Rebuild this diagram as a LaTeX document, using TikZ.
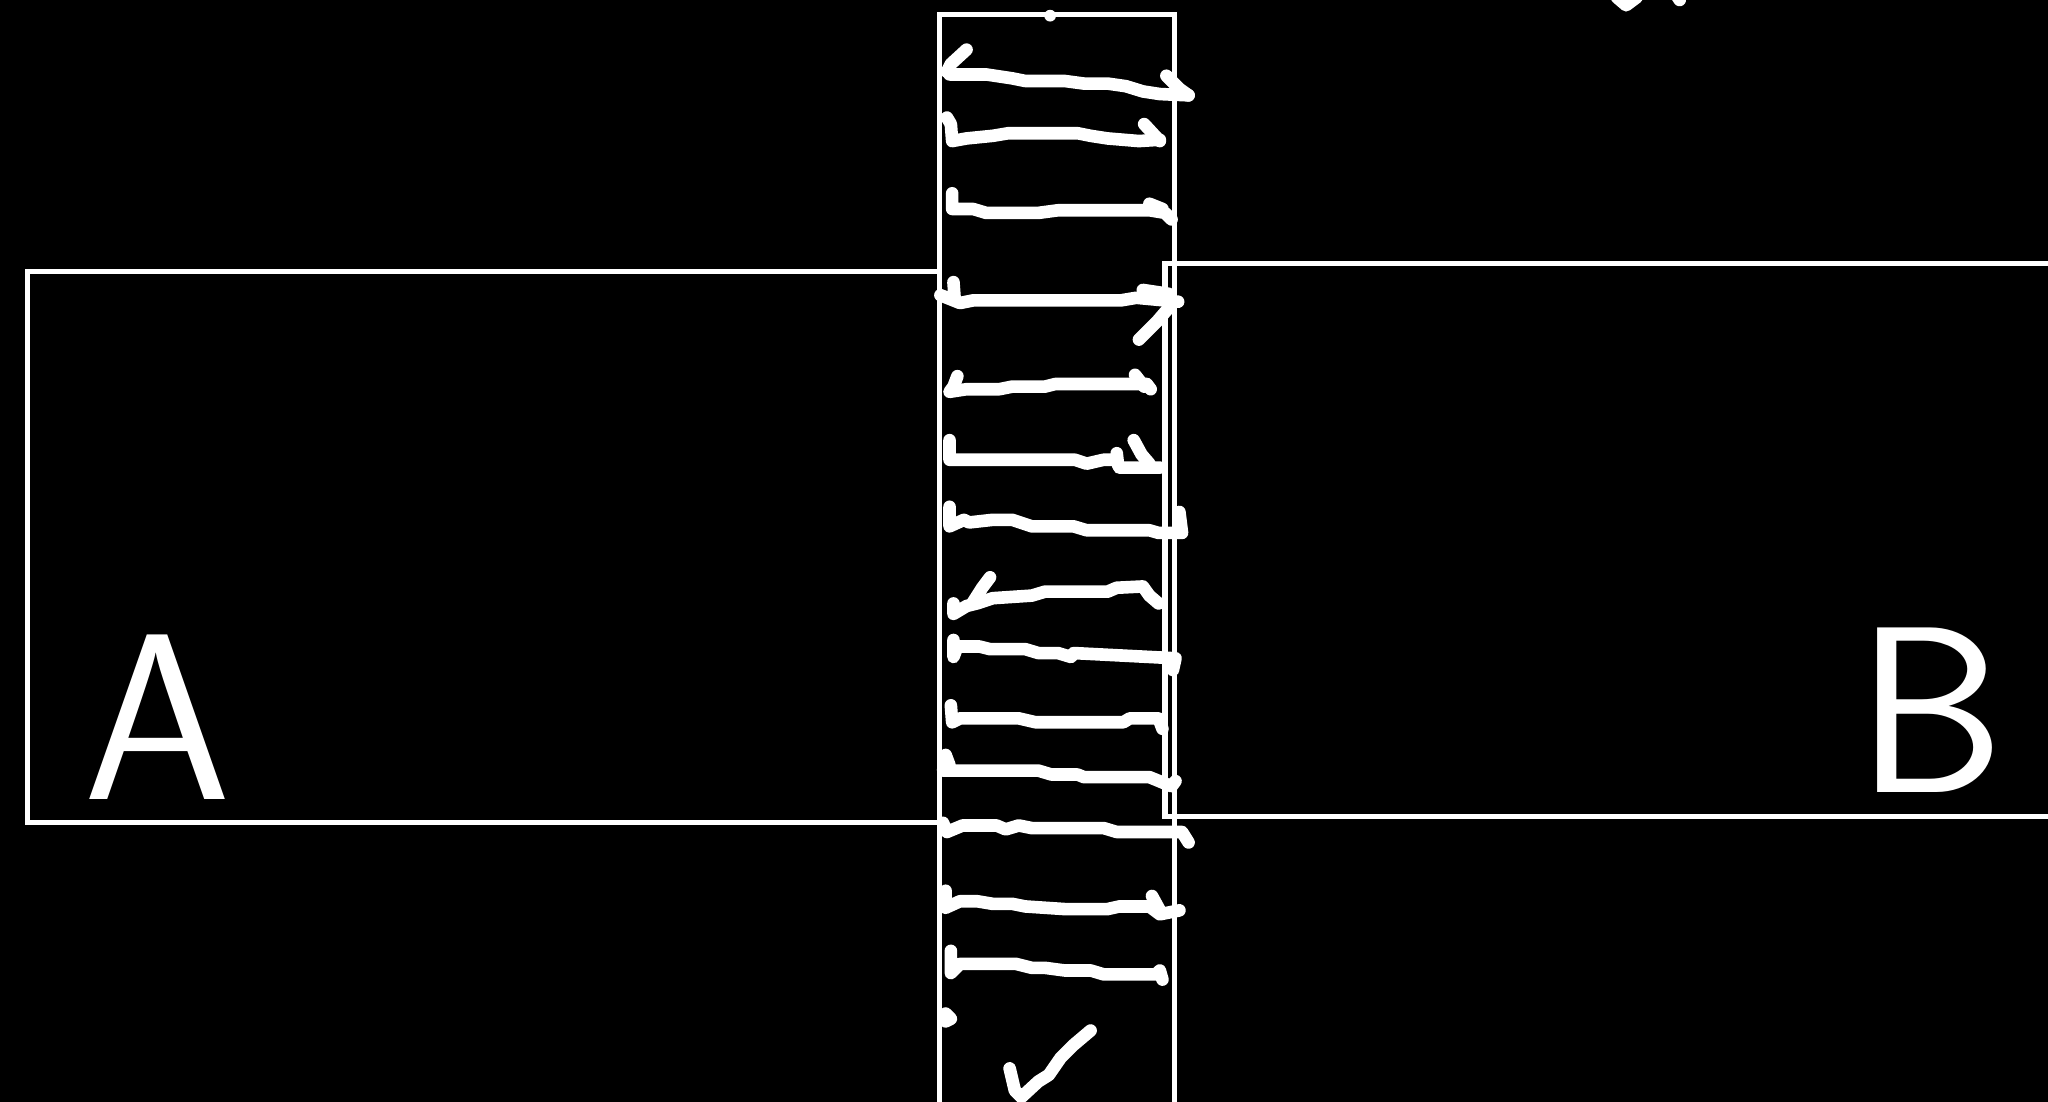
\documentclass[tikz,border=0pt]{standalone}
\usepackage{tikz}
\tikzset{
  frame/.style={white,line width=1.2mm},
  stroke/.style={white,line width=2.9mm,line cap=round,line join=round},
  letter/.style={white,font=\sffamily\fontsize{155}{155}\selectfont,inner sep=0pt}
}

\begin{document}
\begin{tikzpicture}[x=0.3mm,y=-0.3mm]
% page (2048x1102 scaled to 1568 wide)
\fill[black] (0,0) rectangle (1568,843.7);
\useasboundingbox (0,0) rectangle (1568,843.7);
\clip (0,0) rectangle (1568,843.7);
% boxes A and B, strip between
\draw[frame] (721,208) -- (21,208) -- (21,630) -- (721,630);
\draw[frame] (1600,202) -- (892,202) -- (892,625) -- (1600,625);
\draw[frame] (719,860) -- (719,11) -- (899,11) -- (899,860);
\node[letter] (a) at (121,549) {A};
\node[letter] (b) at (1478,544) {B};
% dot on top of strip, scrap at top edge
\fill[white] (804,12) circle (4.5);
\draw[stroke] (1238,-2)--(1245,4)--(1253,-2);
\draw[stroke] (1284,-3)--(1286,0);
% strokes across the strip
\draw[stroke] plot coordinates {(740,38)(728,49)(725,55)};
\draw[stroke] plot coordinates {(727,57)(755,57)(775,60)(785,62)(815,62)(830,64)(848,64)(862,66)(875,70)(888,72)(910,73)};
\draw[stroke] plot coordinates {(893,58)(903,68)(910,73)};
\draw[stroke] plot coordinates {(725,90)(728,95)(729,108)(740,106)(760,104)(772,102)(825,102)(835,104)(848,106)(872,108)(888,107)};
\draw[stroke] plot coordinates {(876,95)(888,108)};
\draw[stroke] plot coordinates {(729,148)(729,160)(745,160)(755,163)(795,163)(810,161)(880,161)(892,163)(897,168)};
\draw[stroke] plot coordinates {(880,156)(890,160)};
\draw[stroke] plot coordinates {(730,216)(731,230)(720,226)(735,232)(745,230)(858,230)(870,228)(902,231)};
\draw[stroke] plot coordinates {(875,222)(895,225)(898,232)(886,246)(872,260)};
\draw[stroke] plot coordinates {(733,288)(730,296)(727,300)(740,298)(765,298)(775,296)(800,296)(808,294)(878,294)(881,298)};
\draw[stroke] plot coordinates {(869,287)(876,296)};
\draw[stroke] plot coordinates {(727,337)(727,352)(823,352)(832,355)(845,352)(855,352)(857,358)(888,358)};
\draw[stroke] plot coordinates {(868,337)(874,348)(880,355)};
\draw[stroke] plot coordinates {(855,347)(856,356)};
\draw[stroke] plot coordinates {(727,388)(727,403)(738,398)(742,400)(760,398)(775,398)(790,403)(822,403)(832,406)(880,406)(887,408)(905,408)(903,392)};
\draw[stroke] plot coordinates {(730,462)(730,470)(740,464)(748,462)(760,458)(790,456)(800,453)(848,453)(855,450)(875,449)(880,456)(887,462)};
\draw[stroke] plot coordinates {(745,461)(752,450)(758,442)};
\draw[stroke] plot coordinates {(730,490)(730,503)(733,495)(750,495)(758,497)(785,497)(795,500)(810,500)(820,503)(822,500)(900,504)(898,513)};
\draw[stroke] plot coordinates {(728,540)(729,553)(735,550)(780,550)(793,553)(860,553)(865,550)(887,550)(890,558)};
\draw[stroke] plot coordinates {(724,578)(727,586)(722,590)(795,590)(805,593)(825,593)(830,595)(880,595)(885,597)(897,602)(900,598)};
\draw[stroke] plot coordinates {(722,630)(725,637)(737,632)(763,632)(770,635)(780,632)(790,634)(845,634)(855,637)(905,637)(910,645)};
\draw[stroke] plot coordinates {(724,682)(724,695)(735,690)(748,690)(760,692)(775,692)(785,694)(815,696)(848,696)(857,694)(880,694)(888,700)(903,697)};
\draw[stroke] plot coordinates {(882,686)(888,697)};
\draw[stroke] plot coordinates {(728,728)(728,745)(735,738)(778,738)(790,741)(800,741)(815,743)(835,743)(845,746)(885,746)(888,743)(890,750)};
\draw[stroke] plot coordinates {(724,776)(728,780)(724,782)};
% check mark
\draw[stroke] plot coordinates {(773,818)(777,835)(782,840)(795,828)(803,823)(812,810)(822,800)(835,789)};
\end{tikzpicture}
\end{document}
